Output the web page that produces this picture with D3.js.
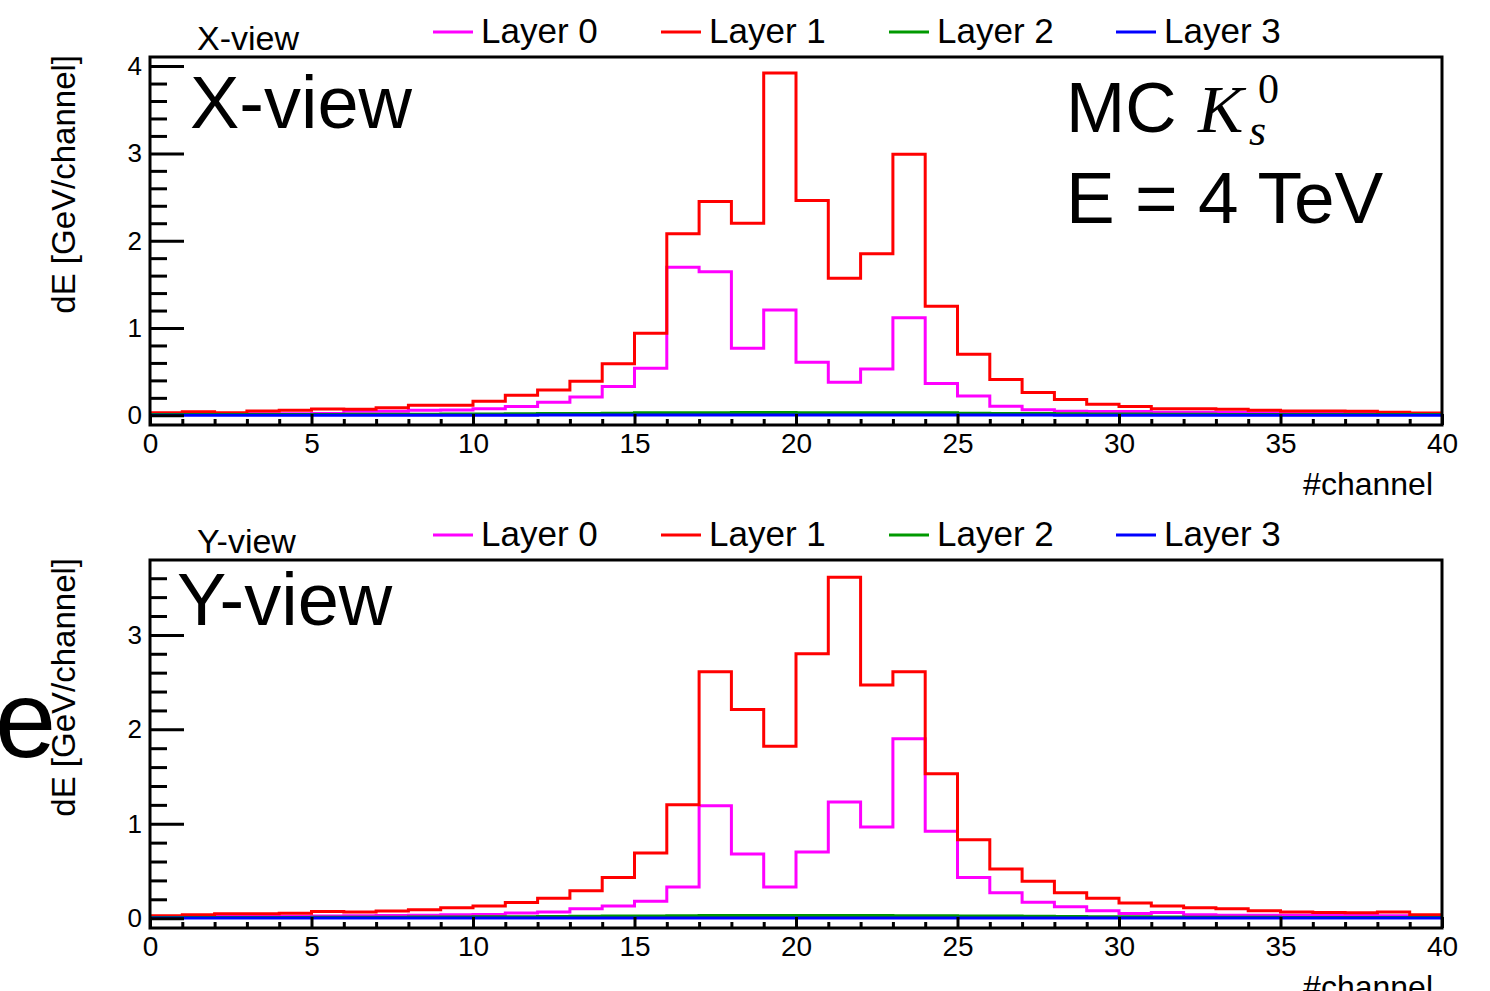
<!DOCTYPE html>
<html><head><meta charset="utf-8">
<script src="https://cdn.jsdelivr.net/npm/d3@7"></script>
<style>
html,body{margin:0;padding:0;background:#fff;}
svg{display:block;font-family:"Liberation Sans",Arial,Helvetica,sans-serif;}
</style></head>
<body>
<svg id="c" width="1490" height="991"></svg>
<script>
// ---------- data ----------
const channels = d3.range(0, 40);           // bin low edges, bin width 1
const layerNames = ["Layer 0", "Layer 1", "Layer 2", "Layer 3"];
const layerColors = ["#ff00ff", "#ff0000", "#009900", "#0000ff"];

const xLayer0 = [0.015,0.015,0.015,0.018,0.018,0.02,0.046,0.046,0.057,0.06,0.075,0.10,0.15,0.21,0.33,0.54,1.695,1.645,0.767,1.206,0.607,0.378,0.53,1.118,0.365,0.22,0.105,0.065,0.046,0.045,0.045,0.035,0.035,0.033,0.03,0.03,0.028,0.026,0.025,0.022];
const xLayer1 = [0.03,0.04,0.03,0.05,0.057,0.072,0.07,0.088,0.115,0.115,0.16,0.23,0.29,0.39,0.59,0.94,2.08,2.45,2.2,3.92,2.46,1.57,1.85,2.99,1.25,0.70,0.41,0.26,0.18,0.126,0.10,0.076,0.076,0.069,0.057,0.05,0.05,0.046,0.034,0.027];
const xLayer2 = [0.008,0.008,0.008,0.009,0.01,0.01,0.011,0.012,0.013,0.015,0.016,0.018,0.02,0.022,0.025,0.028,0.03,0.03,0.032,0.033,0.03,0.03,0.03,0.03,0.028,0.025,0.022,0.02,0.018,0.016,0.014,0.012,0.011,0.01,0.01,0.009,0.009,0.008,0.008,0.008];
const xLayer3 = [0.002,0.002,0.002,0.002,0.002,0.002,0.002,0.002,0.002,0.002,0.002,0.002,0.003,0.003,0.003,0.003,0.004,0.004,0.004,0.004,0.004,0.004,0.004,0.004,0.003,0.003,0.003,0.003,0.002,0.002,0.002,0.002,0.002,0.002,0.002,0.002,0.002,0.002,0.002,0.002];

const yLayer0 = [0.015,0.015,0.018,0.018,0.02,0.022,0.025,0.028,0.03,0.035,0.04,0.055,0.065,0.10,0.13,0.18,0.33,1.19,0.68,0.33,0.70,1.23,0.965,1.90,0.92,0.43,0.27,0.17,0.12,0.08,0.05,0.06,0.035,0.03,0.03,0.03,0.03,0.03,0.025,0.02];
const yLayer1 = [0.025,0.035,0.046,0.046,0.053,0.07,0.065,0.075,0.09,0.11,0.13,0.165,0.21,0.29,0.43,0.69,1.2,2.61,2.21,1.82,2.8,3.61,2.47,2.61,1.53,0.83,0.52,0.39,0.27,0.21,0.16,0.13,0.11,0.10,0.08,0.065,0.06,0.058,0.065,0.035];
const yLayer2 = [0.006,0.006,0.007,0.008,0.008,0.009,0.01,0.011,0.012,0.013,0.015,0.016,0.018,0.02,0.022,0.024,0.026,0.028,0.028,0.028,0.028,0.028,0.028,0.027,0.026,0.024,0.022,0.02,0.018,0.016,0.014,0.012,0.011,0.01,0.009,0.008,0.008,0.007,0.007,0.006];
const yLayer3 = [0.002,0.002,0.002,0.002,0.002,0.002,0.002,0.002,0.002,0.002,0.002,0.002,0.002,0.003,0.003,0.003,0.003,0.003,0.003,0.003,0.003,0.003,0.003,0.003,0.003,0.003,0.003,0.002,0.002,0.002,0.002,0.002,0.002,0.002,0.002,0.002,0.002,0.002,0.002,0.002];

const xMajorTicks = [0,5,10,15,20,25,30,35,40];
const xMinorTicks = d3.range(0, 41, 1);
const yMajorTicksTop = [0,1,2,3,4];
const yMajorTicksBottom = [0,1,2,3];

// ---------- chart ----------
const svg = d3.select("#c");
svg.append("rect").attr("width",1490).attr("height",991).attr("fill","#fff");
const FONT = '"Liberation Sans",Arial,Helvetica,sans-serif';
const SERIF = '"Liberation Serif","DejaVu Serif",serif';

function panel(cfg){
  const g = svg.append("g");
  const x = d3.scaleLinear().domain([0,40]).range([150,1442]);
  const y = d3.scaleLinear().domain(cfg.yDomain).range([cfg.bottom, cfg.top]);

  // histograms
  const line = d3.line().x(d=>x(d[0])).y(d=>y(d[1])).curve(d3.curveStepAfter);
  cfg.layers.forEach((vals,k)=>{
    const pts = channels.map((c,i)=>[c, vals[i]]);
    pts.push([40, vals[vals.length-1]]);
    g.append("path").attr("d", line(pts)).attr("fill","none")
      .attr("stroke", layerColors[k]).attr("stroke-width",3);
  });

  // y minor ticks
  const yMinor = d3.range(0, cfg.yDomain[1]+1e-9, 0.2).filter(v=>cfg.yMajor.indexOf(Math.round(v*10)/10)<0);
  g.append("g").attr("transform","translate(150,0)")
    .call(d3.axisLeft(y).tickValues(yMinor).tickSize(-17).tickFormat(""))
    .call(a=>{a.select(".domain").remove(); a.selectAll("line").attr("stroke","#000").attr("stroke-width",3);});
  // y major ticks
  g.append("g").attr("transform","translate(150,0)")
    .call(d3.axisLeft(y).tickValues(cfg.yMajor).tickSize(-34).tickPadding(8).tickFormat(d3.format("d")))
    .call(a=>{a.select(".domain").remove();
      a.selectAll("line").attr("stroke","#000").attr("stroke-width",3);
      a.selectAll("text").attr("font-family",FONT).attr("font-size",26).attr("fill","#000");});

  // x minor ticks
  g.append("g").attr("transform",`translate(0,${cfg.bottom})`)
    .call(d3.axisBottom(x).tickValues(xMinorTicks.filter(v=>v%5)).tickSize(-6).tickFormat(""))
    .call(a=>{a.select(".domain").remove(); a.selectAll("line").attr("stroke","#000").attr("stroke-width",3);});
  // x major ticks
  g.append("g").attr("transform",`translate(0,${cfg.bottom})`)
    .call(d3.axisBottom(x).tickValues(xMajorTicks).tickSize(-11).tickPadding(8).tickFormat(d3.format("d")))
    .call(a=>{a.select(".domain").remove();
      a.selectAll("line").attr("stroke","#000").attr("stroke-width",3);
      a.selectAll("text").attr("font-family",FONT).attr("font-size",28).attr("fill","#000");});

  // frame
  g.append("rect").attr("x",150).attr("y",cfg.top).attr("width",1292).attr("height",cfg.bottom-cfg.top)
    .attr("fill","none").attr("stroke","#000").attr("stroke-width",3);

  // titles
  g.append("text").attr("x",197).attr("y",cfg.top-7).attr("font-size",34).attr("font-family",FONT).text(cfg.title);
  g.append("text").attr("x",cfg.bigX).attr("y",cfg.top+cfg.bigDy).attr("font-size",cfg.bigSize).attr("font-family",FONT).text(cfg.title);
  g.append("text").attr("transform",`translate(75,${cfg.top-2}) rotate(-90)`).attr("text-anchor","end")
    .attr("font-size",33).attr("font-family",FONT).text("dE [GeV/channel]");
  g.append("text").attr("x",1433).attr("y",cfg.bottom+70).attr("text-anchor","end")
    .attr("font-size",32).attr("font-family",FONT).text("#channel");

  // legend
  const lx = [433, 661, 889, 1116];
  layerNames.forEach((n,k)=>{
    const ly = cfg.top - 25;
    g.append("line").attr("x1",lx[k]).attr("x2",lx[k]+40).attr("y1",ly).attr("y2",ly)
      .attr("stroke",layerColors[k]).attr("stroke-width",3);
    g.append("text").attr("x",lx[k]+48).attr("y",ly+11).attr("font-size",35).attr("font-family",FONT).text(n);
  });
  return {x,y,g};
}

panel({top:57, bottom:425, yDomain:[-0.111, 4.104], yMajor:yMajorTicksTop, title:"X-view",
       layers:[xLayer0,xLayer1,xLayer2,xLayer3], bigX:190, bigDy:71, bigSize:74});
panel({top:560, bottom:928, yDomain:[-0.104, 3.793], yMajor:yMajorTicksBottom, title:"Y-view",
       layers:[yLayer0,yLayer1,yLayer2,yLayer3], bigX:177, bigDy:65, bigSize:74});

// annotation text
const ann = svg.append("g").attr("font-family",FONT).attr("fill","#000");
ann.append("text").attr("x",1066).attr("y",132).attr("font-size",71).text("MC");
ann.append("text").attr("x",1198).attr("y",132).attr("font-size",68)
  .attr("font-family",SERIF).attr("font-style","italic").text("K");
ann.append("text").attr("x",1258).attr("y",103).attr("font-size",42)
  .attr("font-family",SERIF).text("0");
ann.append("text").attr("x",1249).attr("y",145).attr("font-size",44).attr("font-style","italic")
  .attr("font-family",SERIF).text("s");
ann.append("text").attr("x",1066).attr("y",223).attr("font-size",73).text("E = 4 TeV");

// stray large glyph at left of lower panel
svg.append("text").attr("x",-5).attr("y",757).attr("font-size",110).attr("font-family",FONT).text("e");
</script>
</body></html>
